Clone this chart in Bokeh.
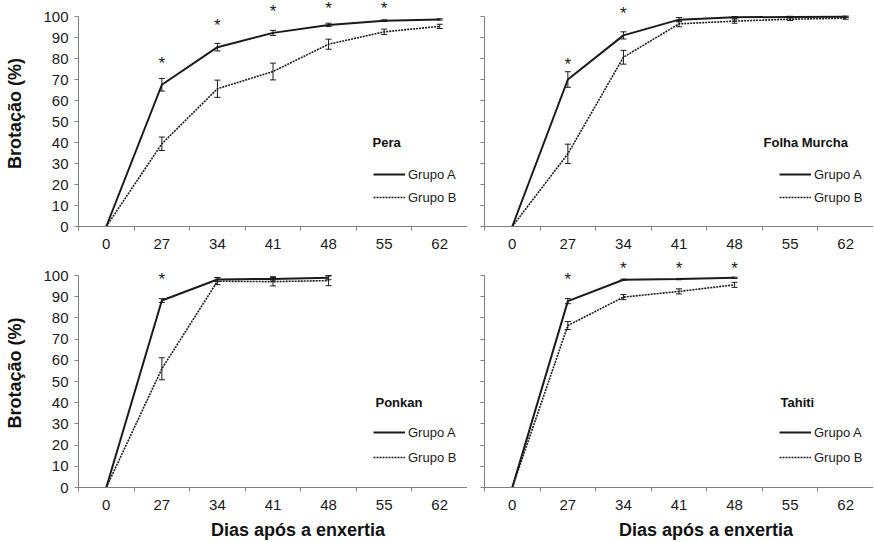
from bokeh.plotting import figure
from bokeh.models import (Range1d, LinearAxis, FixedTicker, Div,
                          Whisker, TeeHead, ColumnDataSource, Legend, LegendItem, Label)
from bokeh.layouts import gridplot, column, row
from bokeh.embed import file_html
from bokeh.resources import INLINE
from bokeh.core.properties import value

# ---------------- data ----------------
days = ["0", "27", "34", "41", "48", "55", "62"]
y_ticks = [0, 10, 20, 30, 40, 50, 60, 70, 80, 90, 100]

pera_a = [0, 67.5, 85.4, 92.2, 96.0, 98.0, 98.6]
pera_a_err = [0, 3.0, 1.8, 1.2, 0.8, 0.4, 0.3]
pera_b = [0, 39.4, 65.6, 73.8, 86.8, 92.7, 95.3]
pera_b_err = [0, 3.2, 4.1, 4.0, 2.4, 1.3, 1.0]
pera_star_days = ["27", "34", "41", "48", "55"]
pera_star_y = [79, 97, 104, 105.2, 105.2]

folha_a = [0, 70.0, 91.0, 98.5, 99.6, 99.8, 99.9]
folha_a_err = [0, 3.7, 1.7, 1.0, 0.4, 0.3, 0.3]
folha_b = [0, 34.6, 80.6, 96.5, 97.8, 98.7, 99.2]
folha_b_err = [0, 4.6, 3.3, 1.4, 1.0, 0.6, 0.5]
folha_star_days = ["27", "34"]
folha_star_y = [78.6, 102.9]

ponkan_a = [0, 88.2, 98.1, 98.4, 98.9]
ponkan_a_err = [0, 0.9, 1.0, 1.0, 0.9]
ponkan_b = [0, 56.0, 97.3, 97.1, 97.6]
ponkan_b_err = [0, 5.2, 1.6, 2.0, 2.4]
ponkan_star_days = ["27"]
ponkan_star_y = [99.7]

tahiti_a = [0, 87.9, 98.0, 98.3, 98.9]
tahiti_a_err = [0, 1.2, 0.3, 0.3, 0.3]
tahiti_b = [0, 76.4, 89.8, 92.5, 95.6]
tahiti_b_err = [0, 1.9, 1.2, 1.2, 1.2]
tahiti_star_days = ["27", "34", "41", "48"]
tahiti_star_y = [99.7, 104.7, 104.7, 104.7]

x_title = "Dias após a enxertia"
y_title = "Brotação (%)"

# ---------------- style ----------------
FONT = "Liberation Sans"
AXIS = "#808080"
INK = "#1a1a1a"
FRAME_W = 389
LEFT_B = 78
RIGHT_B = 17

# category slot centre for each day label (categorical axis: equal spacing)
slot = {d: i + 0.5 for i, d in enumerate(days)}


def whisker(p, xs, vals, errs):
    idx = [i for i in range(len(vals)) if errs[i] > 0]
    src = ColumnDataSource(dict(
        x=[xs[i] for i in idx],
        upper=[vals[i] + errs[i] for i in idx],
        lower=[vals[i] - errs[i] for i in idx],
    ))
    w = Whisker(source=src, base="x", upper="upper", lower="lower", dimension="height",
                line_color=INK, line_width=1,
                upper_head=TeeHead(size=6, line_color=INK, line_width=1),
                lower_head=TeeHead(size=6, line_color=INK, line_width=1))
    p.add_layout(w)


def panel(name, a, a_err, b, b_err, star_days, star_y, top, left, title_x):
    n = len(a)
    xs = [slot[d] for d in days[:n]]
    fig_w = (LEFT_B if left else RIGHT_B) + FRAME_W
    fig_h = 258 if top else 259
    y_end = 107.62 if top else 108.02
    p = figure(width=fig_w, height=fig_h,
               x_range=Range1d(0, len(days)),
               y_range=Range1d(0, y_end),
               x_axis_location=None, y_axis_location=None,
               output_backend="svg", toolbar_location=None,
               min_border_left=(LEFT_B if left else RIGHT_B), min_border_right=0,
               min_border_top=0, min_border_bottom=(32 if top else 30))
    p.outline_line_color = None
    p.grid.grid_line_color = None
    p.background_fill_color = "white"
    p.border_fill_color = "white"

    # y axis
    if left:
        yax = LinearAxis(ticker=FixedTicker(ticks=y_ticks), bounds=(0, 100),
                         axis_line_color=AXIS, major_tick_line_color=AXIS,
                         major_tick_out=4, major_tick_in=0, minor_tick_line_color=None,
                         major_label_text_font=FONT, major_label_text_font_size="15px",
                         major_label_text_color=INK, major_label_standoff=6,
                         axis_label=y_title, axis_label_text_font=FONT,
                         axis_label_text_font_size="18px",
                         axis_label_text_font_style="bold",
                         axis_label_text_color="#111111", axis_label_standoff=15)
    else:
        yax = LinearAxis(ticker=FixedTicker(ticks=[], minor_ticks=y_ticks), bounds=(0, 100),
                         axis_line_color=AXIS, major_tick_line_color=None,
                         major_tick_out=0, major_tick_in=0,
                         minor_tick_line_color=AXIS, minor_tick_out=4, minor_tick_in=0,
                         major_label_standoff=0)
    p.add_layout(yax, "left")

    # x axis: labels at category centres, ticks at category boundaries
    xax = LinearAxis(ticker=FixedTicker(ticks=[slot[d] for d in days],
                                        minor_ticks=list(range(len(days) + 1))),
                     major_label_overrides={slot[d]: d for d in days},
                     axis_line_color=AXIS, major_tick_line_color=None,
                     major_tick_out=0, major_tick_in=0,
                     minor_tick_line_color=AXIS, minor_tick_out=4, minor_tick_in=0,
                     major_label_text_font=FONT, major_label_text_font_size="15px",
                     major_label_text_color=INK, major_label_standoff=8)
    p.add_layout(xax, "below")

    # series
    ra = p.line(x=xs, y=a, line_width=2, line_color=INK)
    rb = p.line(x=xs, y=b, line_width=1.6, line_color=INK, line_dash="2 1")
    whisker(p, xs, a, a_err)
    whisker(p, xs, b, b_err)

    p.text(x=[slot[d] for d in star_days], y=star_y, text=["*"] * len(star_days),
           text_align="center", text_baseline="middle", text_font=value(FONT),
           text_font_size="17px", text_color=INK, y_offset=3)

    legend = Legend(items=[LegendItem(label="Grupo A", renderers=[ra]),
                           LegendItem(label="Grupo B", renderers=[rb])],
                    location=(295, 19 if top else 20),
                    glyph_width=32, glyph_height=20, label_height=20,
                    label_standoff=3, spacing=(3 if top else 5), padding=0, margin=0,
                    border_line_color=None, background_fill_alpha=0,
                    label_text_font=FONT, label_text_font_size="13px",
                    label_text_color=INK)
    p.add_layout(legend)

    p.add_layout(Label(x=title_x, y=40, x_units="screen", y_units="data", text=name,
                       text_font=FONT, text_font_size="13px", text_font_style="bold",
                       text_baseline="middle", text_color="#111111"))
    return p


def x_title_div(width, pad):
    html = ('<div style="width:%dpx; box-sizing:border-box; padding-left:%dpx; '
            'padding-top:3px; text-align:center; font-family:\'%s\'; font-size:18px; '
            'font-weight:bold; line-height:20px; color:#111111; white-space:nowrap;">%s</div>'
            % (width, pad, FONT, x_title))
    return Div(text=html, width=width, height=25, margin=0)


p1 = panel("Pera", pera_a, pera_a_err, pera_b, pera_b_err,
           pera_star_days, pera_star_y, True, True, 294)
p2 = panel("Folha Murcha", folha_a, folha_a_err, folha_b, folha_b_err,
           folha_star_days, folha_star_y, True, False, 279)
p3 = panel("Ponkan", ponkan_a, ponkan_a_err, ponkan_b, ponkan_b_err,
           ponkan_star_days, ponkan_star_y, False, True, 297)
p4 = panel("Tahiti", tahiti_a, tahiti_a_err, tahiti_b, tahiti_b_err,
           tahiti_star_days, tahiti_star_y, False, False, 296)

grid = gridplot([[p1, p2], [p3, p4]], toolbar_location=None)
w_left = LEFT_B + FRAME_W
w_right = RIGHT_B + FRAME_W
titles = row(x_title_div(w_left, 2 * 298 - w_left), x_title_div(w_right, 2 * (706 - w_left) - w_right),
             spacing=0)
layout = column(grid, titles, spacing=0)

open("out.html", "w").write(file_html(layout, INLINE))
